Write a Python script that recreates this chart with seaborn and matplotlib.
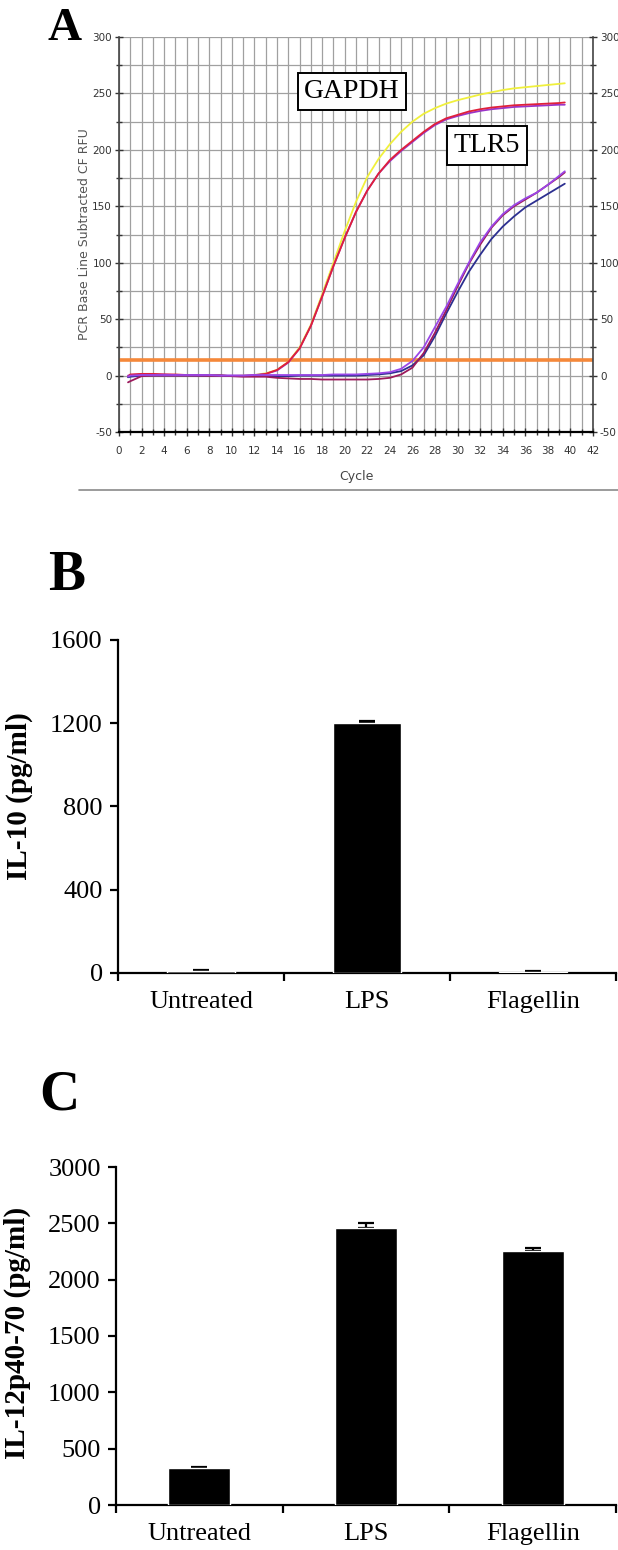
import numpy as np
import pandas as pd
import seaborn as sns
import matplotlib.pyplot as plt
from matplotlib.lines import Line2D

# Panel A: amplification curves (RFU per cycle)
cycle = [0.8, 1, 2, 3, 4, 5, 6, 7, 8, 9, 10, 11, 12, 13, 14, 15, 16, 17, 18, 19, 20,
         21, 22, 23, 24, 25, 26, 27, 28, 29, 30, 31, 32, 33, 34, 35, 36, 37, 38, 39, 39.5]
gapdh_yellow = [-1, 0, 1, 1, 0.5, 0.5, 0.5, 0.5, 0, 0, -0.5, 0, 0.5, 2, 5, 12, 25, 45, 72, 100, 128,
                154, 176, 192, 205, 216, 225, 232, 237, 241, 244, 246.5, 249, 251, 253, 254.5,
                255.5, 256.5, 257.5, 258.5, 259]
gapdh_red = [-1, 1, 1.5, 1.5, 1, 1, 0.5, 0.5, 0, 0, -0.5, -0.5, 0, 1.5, 5, 12, 24, 44, 70, 97, 122,
             145, 164, 179, 191, 200, 208, 216, 223, 228, 231, 234, 236, 237.5, 238.5, 239.5,
             240, 240.5, 241, 241.5, 242]
gapdh_purple = [0, 0.5, 1, 1, 1, 0.5, 0.5, 0, 0, 0, 0, 0, 0.5, 1.5, 4.5, 11.5, 24, 44, 70, 97, 122,
                145, 164, 179, 190, 199, 207, 215, 222, 227, 230, 232.5, 234.5, 236, 237, 238,
                238.5, 239, 239.5, 240, 240]
tlr5_purple = [-1, 0, 0.5, 0.5, 0.5, 0.5, 0.5, 0.5, 0.5, 0, 0, 0, 0.5, 0.5, 0.5, 0.5, 0.5, 0.5, 0.5, 1, 1,
               1, 1.5, 2, 3, 6, 13, 25, 43, 61, 81, 100, 118, 132, 143, 151, 157, 162, 169, 177, 181]
tlr5_navy = [-1.5, -1, 0, 0, 0, 0, 0, 0, 0, 0, -0.5, -0.5, -0.5, -0.5, -0.5, -0.5, 0, 0, 0, 0, 0,
             0, 0.5, 1, 2, 4, 9, 18, 35, 55, 74, 92, 107, 121, 132, 141, 149, 155, 161, 167, 170]
tlr5_maroon = [-6, -5, -0.5, 0, 0, 0, 0, 0, 0, 0, -0.5, -1, -1, -1, -2, -2.5, -3, -3, -3.5, -3.5, -3.5,
               -3.5, -3.5, -3, -2, 1, 7, 20, 38, 58, 79, 99, 116, 131, 142, 150, 156, 162, 169, 176, 180]
threshold = 14

# Panels B and C: cytokine levels
treatments = ["Untreated", "LPS", "Flagellin"]
il10_mean = [8, 1200, 6]
il10_err = [5, 10, 2]
il12_mean = [325, 2460, 2255]
il12_err = [12, 45, 30]

curves = {
    "GAPDH yellow": gapdh_yellow,
    "GAPDH purple": gapdh_purple,
    "GAPDH red": gapdh_red,
    "TLR5 navy": tlr5_navy,
    "TLR5 maroon": tlr5_maroon,
    "TLR5 purple": tlr5_purple,
}
colors = {
    "GAPDH yellow": "#f0f03c",
    "GAPDH purple": "#9a34c8",
    "GAPDH red": "#e0203a",
    "TLR5 navy": "#2c2f90",
    "TLR5 maroon": "#9c1a5c",
    "TLR5 purple": "#9a46e8",
}
pcr = pd.concat(
    [pd.DataFrame({"Cycle": cycle, "RFU": v, "well": k}) for k, v in curves.items()],
    ignore_index=True,
)

sns.set_style("ticks")
plt.rcParams["axes.unicode_minus"] = False
plt.rcParams["text.color"] = "black"
plt.rcParams["axes.labelcolor"] = "black"
plt.rcParams["xtick.color"] = "black"
plt.rcParams["ytick.color"] = "black"
serif = ["Liberation Serif", "DejaVu Serif"]

fig = plt.figure(figsize=(6.18, 15.5), dpi=100)
W, H = 618, 1550


def box(l, t, r, b):
    return [l / W, 1 - b / H, (r - l) / W, (b - t) / H]


# ---------- panel A ----------
ax = fig.add_axes(box(119, 37, 593, 432))
ax.axhline(threshold, color="#f5883a", lw=2.6, zorder=2)
sns.lineplot(data=pcr, x="Cycle", y="RFU", hue="well", palette=colors, estimator=None,
             sort=False, lw=1.3, legend=False, ax=ax, zorder=3)
ax.set_xlim(0, 42)
ax.set_ylim(-50, 300)
ax.set_xticks(np.arange(0, 43, 2))
ax.set_xticks(np.arange(0, 43, 1), minor=True)
ax.set_yticks(np.arange(-50, 301, 50))
ax.set_yticks(np.arange(-50, 301, 25), minor=True)
ax.grid(which="both", color="#a0a0a0", lw=0.9)
ax.set_axisbelow(True)
ax.spines["top"].set_visible(False)
for s in ["left", "right"]:
    ax.spines[s].set_color("#444444")
    ax.spines[s].set_linewidth(1.2)
ax.spines["bottom"].set_color("black")
ax.spines["bottom"].set_linewidth(1.6)
ax.tick_params(which="both", direction="inout", color="#333333", width=1, labelsize=7.5,
               labelcolor="#333333", left=True, right=True, labelright=True, bottom=True)
ax.tick_params(which="major", length=6)
ax.tick_params(axis="y", which="major", pad=2)
ax.tick_params(axis="x", which="major", pad=7)
ax.tick_params(which="minor", length=5)
ax.set_xlabel("Cycle", fontsize=9, color="#444444", labelpad=10)
ax.set_ylabel("PCR Base Line Subtracted CF RFU", fontsize=9, color="#555555")
ax.yaxis.set_label_coords(-0.06, 0.5)
ax.text(20.65, 252, "GAPDH", ha="center", va="center", fontsize=20, family=serif, zorder=5,
        bbox=dict(boxstyle="square,pad=0.22", fc="white", ec="black", lw=1.4))
ax.text(32.6, 204, "TLR5", ha="center", va="center", fontsize=20, family=serif, zorder=5,
        bbox=dict(boxstyle="square,pad=0.26", fc="white", ec="black", lw=1.4))
fig.add_artist(Line2D([79 / W, 1], [1 - 490 / H] * 2, transform=fig.transFigure,
                      color="#8a8a8a", lw=1.2))


# ---------- panels B and C ----------
def bar_panel(axb, means, errs, ylabel, yticks, width):
    sns.barplot(x=treatments, y=means, color="black", saturation=1, width=width,
                errorbar=None, ax=axb, zorder=3)
    pos = np.arange(len(treatments))
    axb.errorbar(pos, means, yerr=[np.zeros(len(errs)), errs], fmt="none", ecolor="black",
                 elinewidth=1.6, capsize=6, capthick=1.6, zorder=2)
    axb.set_xlim(-0.5, len(treatments) - 0.5)
    axb.set_ylim(yticks[0], yticks[-1])
    axb.set_yticks(yticks)
    axb.set_yticklabels([str(t) for t in yticks], family=serif, fontsize=19, color="black")
    axb.set_xticks(np.arange(-0.5, len(treatments)), labels=[""] * (len(treatments) + 1))
    axb.set_xticks(pos, labels=treatments, minor=True)
    for lab in axb.get_xticklabels(minor=True):
        lab.set_family(serif)
        lab.set_fontsize(19)
        lab.set_color("black")
    axb.tick_params(which="major", direction="out", length=6, width=1.6, color="black")
    axb.tick_params(axis="y", pad=5)
    axb.tick_params(axis="x", which="minor", length=0, pad=13)
    for s in ["top", "right"]:
        axb.spines[s].set_visible(False)
    for s in ["left", "bottom"]:
        axb.spines[s].set_linewidth(1.6)
        axb.spines[s].set_color("black")
    axb.set_xlabel("")
    axb.set_ylabel(ylabel, family=serif, fontsize=21, fontweight="bold", color="black")


ax_b = fig.add_axes(box(118, 640, 616, 973))
bar_panel(ax_b, il10_mean, il10_err, "IL-10 (pg/ml)", [0, 400, 800, 1200, 1600], 0.41)
ax_b.yaxis.set_label_coords(-0.17, 0.53)

ax_c = fig.add_axes(box(116, 1167, 616, 1505))
bar_panel(ax_c, il12_mean, il12_err, "IL-12p40-70 (pg/ml)",
          [0, 500, 1000, 1500, 2000, 2500, 3000], 0.37)
ax_c.yaxis.set_label_coords(-0.17, 0.51)

for letter, x, y, size in [("A", 65, 29, 34), ("B", 67, 576, 40), ("C", 59, 1096, 40)]:
    fig.text(x / W, 1 - y / H, letter, ha="center", va="center", fontsize=size,
             fontweight="bold", family=serif, color="black")

fig.savefig("out.png", dpi=100)
